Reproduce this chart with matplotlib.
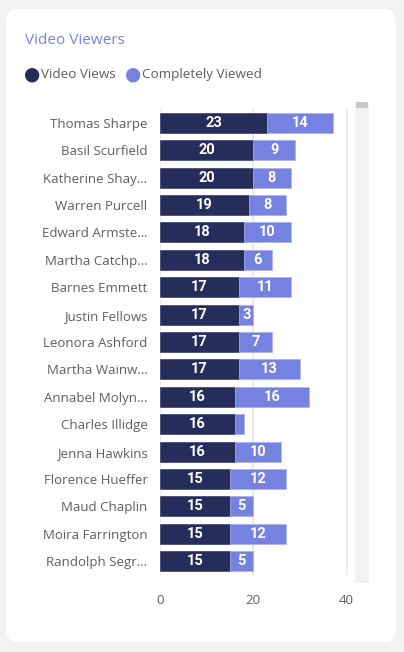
import matplotlib
matplotlib.use("Agg")
import matplotlib.pyplot as plt
from matplotlib.patches import FancyBboxPatch, Rectangle

names = ["Thomas Sharpe", "Basil Scurfield", "Katherine Shay…", "Warren Purcell",
         "Edward Armste…", "Martha Catchp…", "Barnes Emmett", "Justin Fellows",
         "Leonora Ashford", "Martha Wainw…", "Annabel Molyn…", "Charles Illidge",
         "Jenna Hawkins", "Florence Hueffer", "Maud Chaplin", "Moira Farrington",
         "Randolph Segr…"]
video_views = [23, 20, 20, 19, 18, 18, 17, 17, 17, 17, 16, 16, 16, 15, 15, 15, 15]
completely_viewed = [14, 9, 8, 8, 10, 6, 11, 3, 7, 13, 16, 2, 10, 12, 5, 12, 5]
x_ticks = [0, 20, 40]

DARK = "#262d5a"
LIGHT = "#7682e0"
GREY_TXT = "#605e5c"
W, H = 404, 652

plt.rcParams["font.family"] = ["Open Sans", "DejaVu Sans"]

fig = plt.figure(figsize=(W / 100, H / 100), dpi=100, facecolor="#f3f2f1")

# tarjeta blanca (detrás de los ejes)
card = FancyBboxPatch((6 / W, 1 - 642 / H), 390 / W, 633 / H,
                      boxstyle="round,pad=0,rounding_size=0.025",
                      transform=fig.transFigure, facecolor="white", edgecolor="none", zorder=-5)
fig.patches.append(card)

fig.text(25 / W, 1 - 40 / H, "Video Viewers", color=LIGHT, fontsize=11, va="center")

# leyenda
for cx, tx, label, col in [(32, 41, "Video Views", DARK), (133, 142, "Completely Viewed", LIGHT)]:
    fig.text(cx / W, 1 - 74 / H, "●", color=col, fontsize=13.5, ha="center", va="center",
             family="DejaVu Sans")
    fig.text(tx / W, 1 - 78 / H, label, color=GREY_TXT, fontsize=9.7, va="baseline")

ax = fig.add_axes((160 / W, 1 - 575 / H, 188 / W, 466 / H))
ax.set_facecolor("none")
y = list(range(len(names)))
b1 = ax.barh(y, video_views, height=0.73, color=DARK, edgecolor="#3a4270", linewidth=0.5, zorder=3)
b2 = ax.barh(y, completely_viewed, left=video_views, height=0.73, color=LIGHT,
             edgecolor="#a9b0ec", linewidth=0.5, zorder=3)
val_font = dict(color="white", fontsize=10.5, fontweight="bold", family=["Roboto", "DejaVu Sans"])
ax.bar_label(b1, labels=[str(v) for v in video_views], label_type="center", **val_font)
ax.bar_label(b2, labels=[str(v) if v >= 3 else "" for v in completely_viewed],
             label_type="center", **val_font)

ax.set_ylim(len(names) - 0.5, -0.5)
ax.set_xlim(0, 40.3)
ax.set_yticks(y, names)
ax.set_xticks(x_ticks)
ax.tick_params(axis="y", length=0, pad=9, labelsize=9.5, labelcolor=GREY_TXT)
ax.tick_params(axis="x", length=0, pad=14, labelsize=9.5, labelcolor=GREY_TXT)
ax.grid(axis="x", color="#e8e8e8", linewidth=1.2, zorder=0)
for s in ax.spines.values():
    s.set_visible(False)

# barra de desplazamiento
fig.patches.append(Rectangle((355 / W, 1 - 583 / H), 14 / W, 481 / H,
                             transform=fig.transFigure, facecolor="#f2f2f2", edgecolor="none"))
fig.patches.append(Rectangle((356 / W, 1 - 108 / H), 12 / W, 6 / H,
                             transform=fig.transFigure, facecolor="#c8c8c8", edgecolor="none"))

fig.savefig("out.png", dpi=100, facecolor=fig.get_facecolor())
